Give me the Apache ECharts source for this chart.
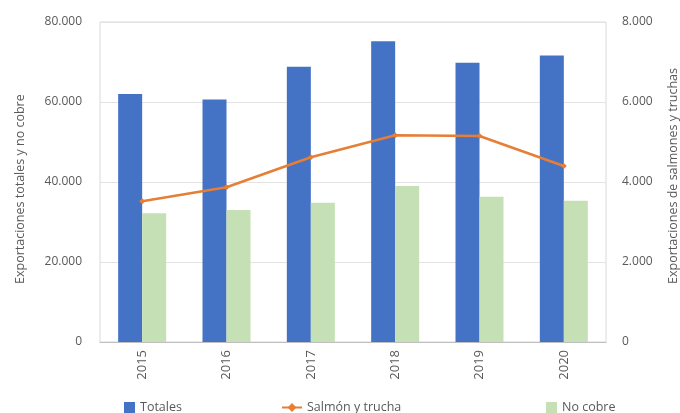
<!DOCTYPE html>
<html>
<head>
<meta charset="utf-8">
<script src="https://cdn.jsdelivr.net/npm/echarts@6/dist/echarts.min.js"></script>
<style>
  html, body { margin: 0; padding: 0; background: #fff; }
  #chart { width: 680px; height: 413px; }
</style>
</head>
<body>
<div id="chart"></div>
<script>
// Exportaciones anuales (millones US$)
const years = ['2015', '2016', '2017', '2018', '2019', '2020'];
const totales = [62000, 60600, 68800, 75200, 69800, 71600];
const noCobre = [32200, 33000, 34800, 39000, 36300, 35300];
const salmonTrucha = [3520, 3870, 4620, 5170, 5150, 4400];
const leftTicks = { min: 0, max: 80000, interval: 20000 };
const rightTicks = { min: 0, max: 8000, interval: 2000 };
const leftTitle = 'Exportaciones totales y no cobre';
const rightTitle = 'Exportaciones de salmones y truchas';

const FONT = '"Open Sans", "Noto Sans", sans-serif';
const TXT = '#595959';

// Separador de miles con punto
function fmt(v) {
  return String(v).replace(/\B(?=(\d{3})+(?!\d))/g, '.');
}

const chart = echarts.init(document.getElementById('chart'), null, { renderer: 'canvas' });

const legendBase = {
  top: 396,
  itemWidth: 11,
  itemHeight: 11,
  textStyle: { color: TXT, fontSize: 12.5, fontFamily: FONT }
};

// Títulos de los ejes verticales, leídos de abajo hacia arriba
function axisTitle(text, x) {
  return {
    type: 'text',
    x: x, y: 284,
    rotation: Math.PI / 2,
    style: {
      text: text,
      fill: TXT,
      font: '12.5px ' + FONT,
      textAlign: 'left',
      textVerticalAlign: 'middle'
    }
  };
}

chart.setOption({
  animation: false,
  textStyle: { fontFamily: FONT },
  grid: {
    left: 100, right: 74, top: 22, bottom: 71,
    containLabel: false,
    outerBoundsMode: 'none',
    show: true, borderColor: '#d9d9d9', borderWidth: 1
  },
  graphic: [axisTitle(leftTitle, 20), axisTitle(rightTitle, 673)],
  legend: [
    Object.assign({}, legendBase, { left: 119, data: [{ name: 'Totales', icon: 'rect' }] }),
    Object.assign({}, legendBase, { left: 276, itemWidth: 20, data: ['Salmón y trucha'] }),
    Object.assign({}, legendBase, { left: 541, data: [{ name: 'No cobre', icon: 'rect' }] })
  ],
  xAxis: {
    type: 'category',
    data: years,
    axisLine: { lineStyle: { color: '#bfbfbf' } },
    axisTick: { show: false },
    axisLabel: { rotate: 90, color: TXT, fontSize: 13, margin: 8 }
  },
  yAxis: [
    {
      type: 'value',
      min: leftTicks.min, max: leftTicks.max, interval: leftTicks.interval,
      axisLine: { show: false },
      axisTick: { show: false },
      splitLine: { lineStyle: { color: '#e3e3e3' } },
      axisLabel: { color: TXT, fontSize: 12, margin: 18, formatter: fmt }
    },
    {
      type: 'value',
      position: 'right',
      min: rightTicks.min, max: rightTicks.max, interval: rightTicks.interval,
      axisLine: { show: false },
      axisTick: { show: false },
      splitLine: { show: false },
      axisLabel: { color: TXT, fontSize: 12, margin: 16, formatter: fmt }
    }
  ],
  series: [
    {
      name: 'Totales',
      type: 'bar',
      data: totales,
      barWidth: 24,
      barGap: '0%',
      itemStyle: { color: '#4472c4' }
    },
    {
      name: 'No cobre',
      type: 'bar',
      data: noCobre,
      barWidth: 24,
      barGap: '0%',
      itemStyle: { color: '#c5e0b4' }
    },
    {
      name: 'Salmón y trucha',
      type: 'line',
      yAxisIndex: 1,
      data: salmonTrucha,
      symbol: 'diamond',
      symbolSize: 6,
      lineStyle: { color: '#e67e36', width: 2.5 },
      itemStyle: { color: '#e67e36' },
      z: 5
    }
  ]
});
</script>
</body>
</html>
